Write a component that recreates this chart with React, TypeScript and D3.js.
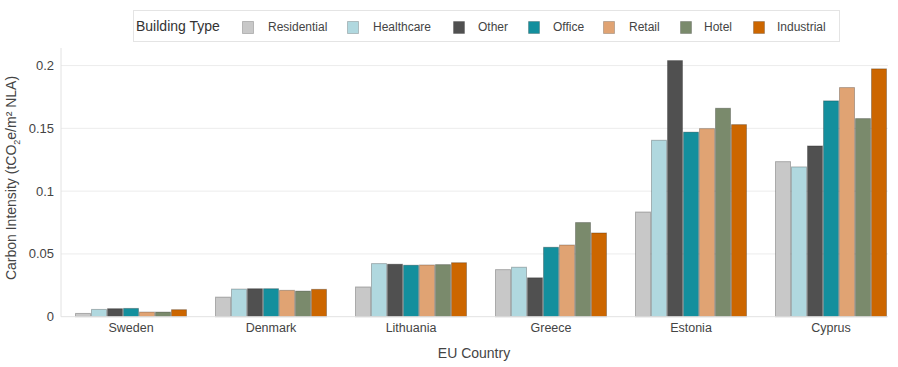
import React from 'react'
import * as d3 from 'd3'

const COUNTRIES = ['Sweden', 'Denmark', 'Lithuania', 'Greece', 'Estonia', 'Cyprus']
const TYPES = ['Residential', 'Healthcare', 'Other', 'Office', 'Retail', 'Hotel', 'Industrial']
const TYPE_COLORS = ['#c8c8c8', '#b0d8df', '#505050', '#138f9d', '#e0a373', '#7a8a6c', '#cc6600']

// values per country, in TYPES order
const SWEDEN = [0.0026, 0.0058, 0.0064, 0.0066, 0.0037, 0.0037, 0.0056]
const DENMARK = [0.0156, 0.022, 0.0223, 0.0223, 0.021, 0.0204, 0.0218]
const LITHUANIA = [0.0237, 0.0423, 0.0418, 0.041, 0.0412, 0.0415, 0.043]
const GREECE = [0.0375, 0.0394, 0.031, 0.0553, 0.0571, 0.075, 0.0667]
const ESTONIA = [0.0834, 0.1405, 0.204, 0.147, 0.1498, 0.166, 0.153]
const CYPRUS = [0.1235, 0.1193, 0.136, 0.1719, 0.1825, 0.1578, 0.1974]

const Y_TICKS = [0, 0.05, 0.1, 0.15, 0.2]
const Y_TICK_LABELS = ['0', '0.05', '0.1', '0.15', '0.2']

const W = 898
const H = 367
const FONT = '"Liberation Sans", Arial, sans-serif'

export default function App() {
  const values = [SWEDEN, DENMARK, LITHUANIA, GREECE, ESTONIA, CYPRUS]
  const margin = { top: 48, right: 10, bottom: 50, left: 61 }
  const plotRight = W - margin.right

  const x0 = d3.scaleBand<string>().domain(COUNTRIES).range([61, 901]).padding(0)
  const x1 = d3.scaleBand<string>().domain(TYPES).range([14, 126]).padding(0)
  const y = d3.scaleLinear().domain([0, 0.214]).range([H - margin.bottom - 0.3, margin.top])
  const color = d3.scaleOrdinal<string, string>().domain(TYPES).range(TYPE_COLORS)

  const y0 = y(0)

  // legend layout
  const legendItems = [
    { swatch: 242, text: 268 },
    { swatch: 347, text: 373 },
    { swatch: 453, text: 478 },
    { swatch: 528, text: 553 },
    { swatch: 603, text: 629 },
    { swatch: 680, text: 704 },
    { swatch: 753, text: 777 },
  ]

  return (
    <svg width={W} height={H} style={{ position: 'absolute', left: 0, top: 0, fontFamily: FONT }}>
      <rect width={W} height={H} fill="#fff" />

      {/* grid */}
      {Y_TICKS.map((t, i) => (
        <g key={t}>
          {i > 0 && (
            <line x1={margin.left} x2={plotRight} y1={y(t)} y2={y(t)} stroke="#ececec" strokeWidth={1} />
          )}
          <text x={54} y={y(t)} dy="0.35em" textAnchor="end" fontSize={13} fill="#444">
            {Y_TICK_LABELS[i]}
          </text>
        </g>
      ))}

      {/* bars */}
      {COUNTRIES.map((c, ci) => (
        <g key={c} transform={`translate(${x0(c)},0)`}>
          {TYPES.map((t, ti) => {
            const v = values[ci][ti]
            return (
              <rect
                key={t}
                x={x1(t)! + 0.5}
                y={y(v)}
                width={x1.bandwidth() - 1}
                height={y0 - y(v)}
                fill={color(t)}
                stroke="#000"
                strokeOpacity={0.25}
                strokeWidth={1}
              />
            )
          })}
          <text x={x0.bandwidth() / 2} y={y0 + 15} textAnchor="middle" fontSize={12.5} fill="#444">
            {c}
          </text>
        </g>
      ))}

      {/* axes lines */}
      <line x1={margin.left} x2={margin.left} y1={margin.top} y2={y0} stroke="#e2e2e2" />
      <line x1={margin.left} x2={plotRight} y1={y0} y2={y0} stroke="#e2e2e2" />

      {/* axis titles */}
      <text x={474} y={358} textAnchor="middle" fontSize={14} fill="#444">
        EU Country
      </text>
      <text
        transform={`translate(16,178) rotate(-90)`}
        textAnchor="middle"
        fontSize={14}
        fill="#444"
      >
        Carbon Intensity (tCO
        <tspan fontSize={9} dy={4}>2</tspan>
        <tspan dy={-4}>e/m² NLA)</tspan>
      </text>

      {/* legend */}
      <rect x={133.5} y={10.5} width={706} height={31} fill="#fff" stroke="#e4e4e4" />
      <text x={136} y={26} dy="0.35em" fontSize={14} fill="#333">
        Building Type
      </text>
      {TYPES.map((t, i) => (
        <g key={t}>
          <rect
            x={legendItems[i].swatch + 0.5}
            y={21.5}
            width={11}
            height={12}
            fill={color(t)}
            stroke="#000"
            strokeOpacity={0.2}
          />
          <text x={legendItems[i].text} y={27} dy="0.35em" fontSize={12} fill="#444">
            {t}
          </text>
        </g>
      ))}
    </svg>
  )
}
